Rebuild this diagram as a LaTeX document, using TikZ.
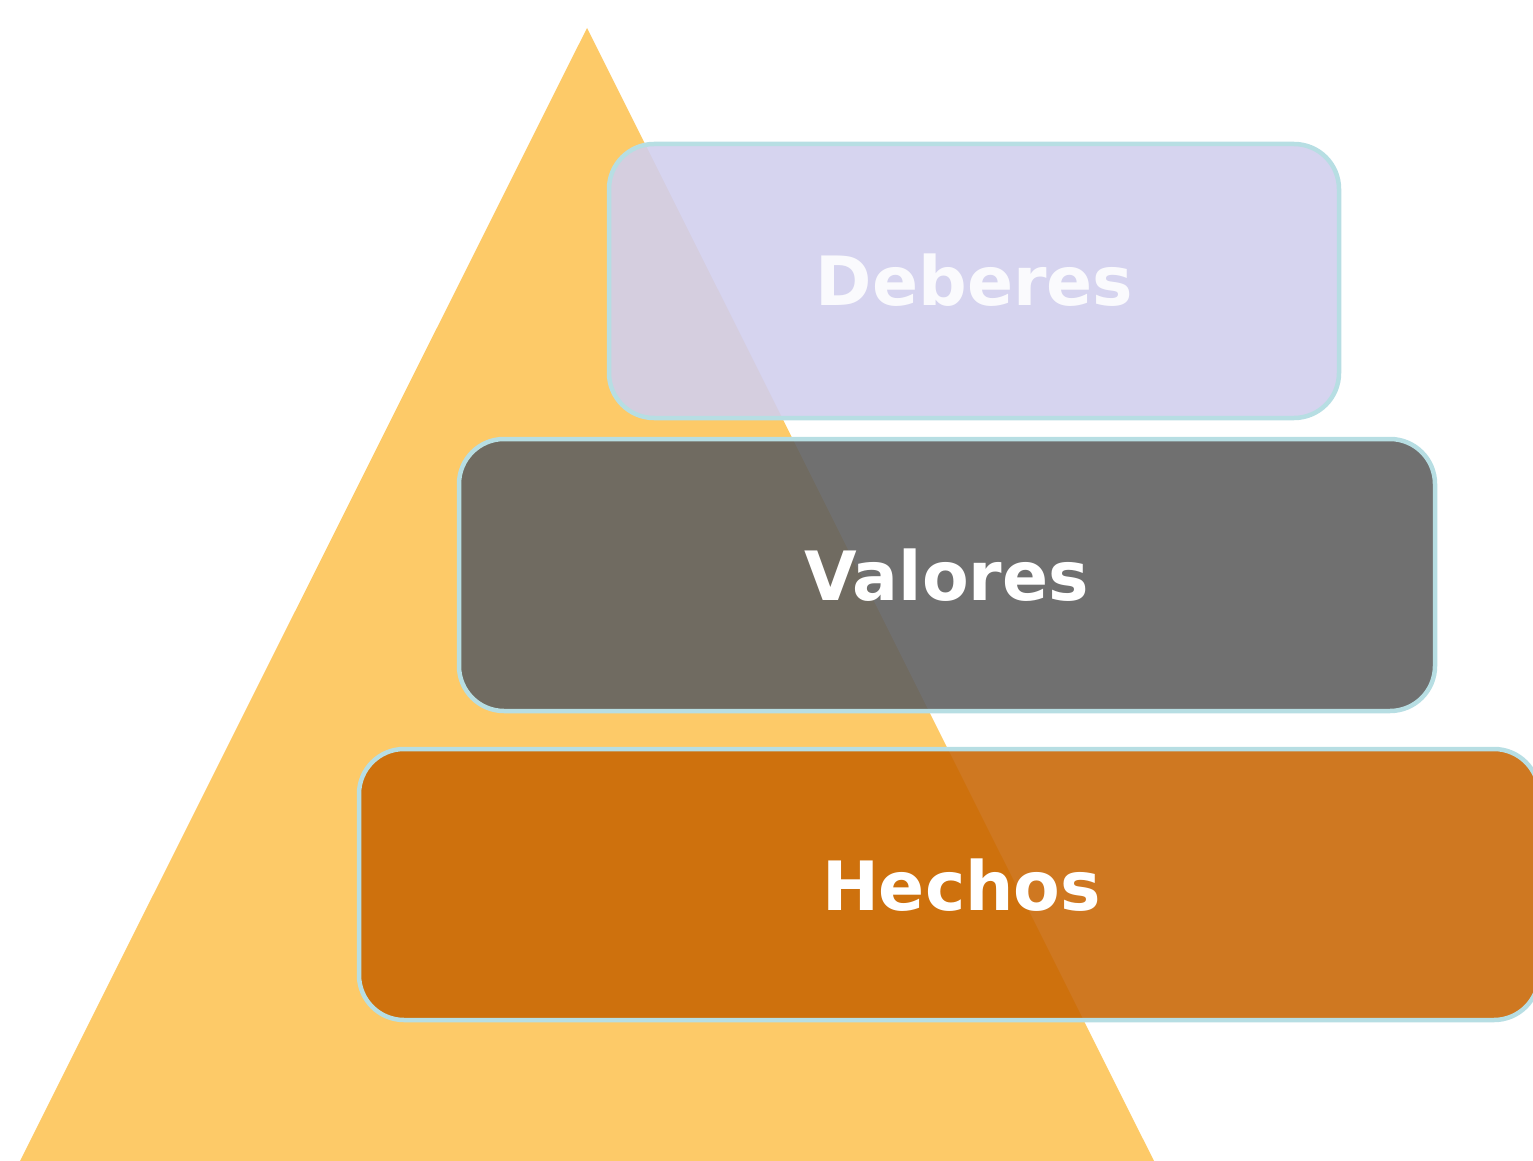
\documentclass[tikz,border=0pt]{standalone}
\usepackage{fontspec}
\setmainfont{DejaVu Sans}
\definecolor{tri}{RGB}{253,202,104}
\definecolor{lav}{RGB}{209,207,237}
\definecolor{grayb}{RGB}{97,97,97}
\definecolor{orangeb}{RGB}{200,100,0}
\definecolor{rim}{RGB}{183,222,227}
\begin{document}
\begin{tikzpicture}[x=1pt,y=-1pt,
  layerbox/.style={draw=rim, line width=4.5pt, rounded corners=45pt, inner sep=0pt, outer sep=0pt, anchor=north west},
  lbl/.style={text=white, anchor=base, font=\bfseries\fontsize{68}{80}\selectfont}]
\useasboundingbox (0,0) rectangle (1533,1161);
\clip (0,0) rectangle (1533,1161);
\fill[tri] (587,28) coordinate (apex) -- (1154,1161) coordinate (br) -- (20,1161) coordinate (bl) -- cycle;
\node[layerbox, fill=lav, fill opacity=0.9, minimum width=730pt, minimum height=274pt] (deb) at (609,144) {};
\node[layerbox, fill=grayb, fill opacity=0.9, minimum width=976pt, minimum height=272pt] (val) at (459,439) {};
\node[layerbox, fill=orangeb, fill opacity=0.87, minimum width=1180pt, minimum height=271pt] (hec) at (359,749) {};
\node[lbl, text=white!90!lav] (tdeb) at (974.5,305) {Deberes};
\node[lbl] (tval) at (946.5,600) {Valores};
\node[lbl] (thec) at (961.5,910) {Hechos};
\end{tikzpicture}
\end{document}
